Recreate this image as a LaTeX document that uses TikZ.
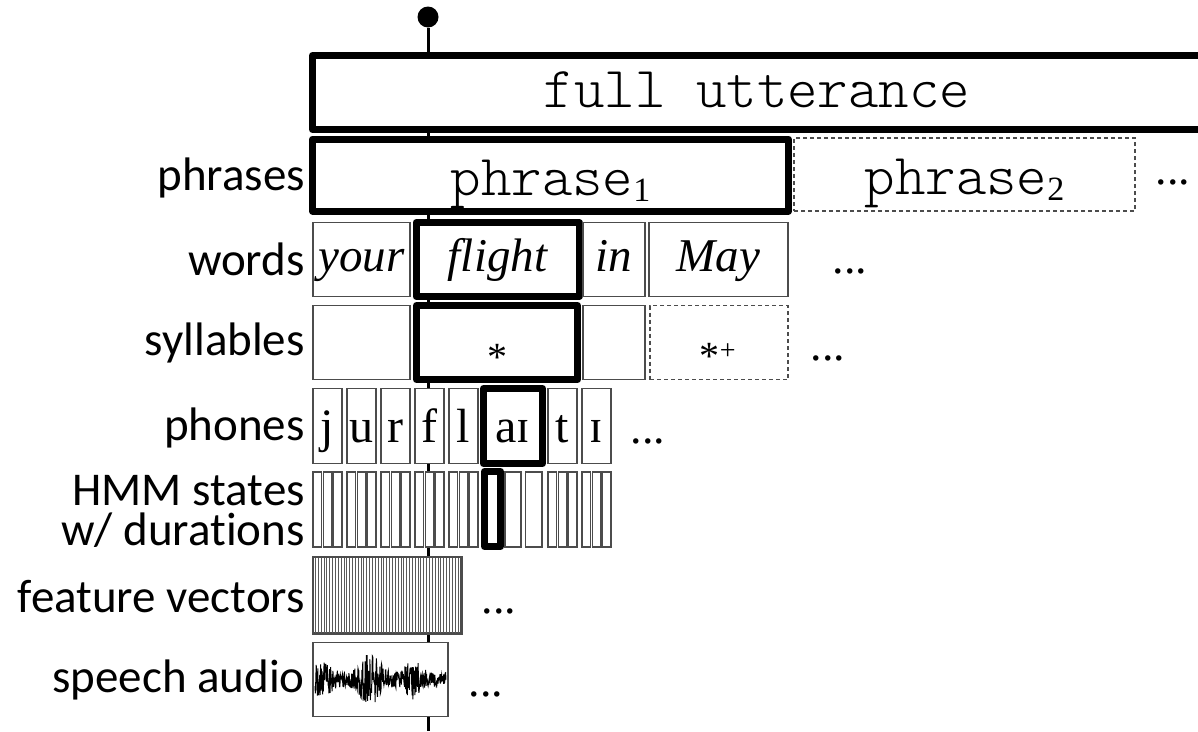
\documentclass[tikz,border=0pt]{standalone}
\usepackage{fontspec}
\setmainfont{Liberation Serif}
\setsansfont{Carlito}[Ligatures=NoCommon]
\setmonofont{Latin Modern Mono Light}
\newcommand{\lowidx}[1]{\raisebox{-6pt}{\rmfamily\fontsize{34}{34}\selectfont #1}}
\begin{document}
\begin{tikzpicture}[x=1pt,y=-1pt,
    declare function={bump(\u)=exp(-(\u)*(\u));
      env(\t)=7+11*bump((\t-322)/12)+19*bump((\t-370)/13)+13*bump((\t-413)/10);}]
    \tikzstyle{unit}=[draw=black!70, line width=1.5pt, fill=white, inner sep=0pt, minimum height=74pt]
    \tikzstyle{focus}=[unit, draw=black, line width=7pt, line join=round]
    \tikzstyle{later}=[unit, dash pattern=on 4pt off 3pt]
    \tikzstyle{level}=[anchor=east, inner sep=0pt, align=right, font=\sffamily\fontsize{47}{40}\selectfont]
    \tikzstyle{more}=[anchor=base, inner sep=0pt, font=\fontsize{46}{46}\selectfont]
    \tikzstyle{mono}=[font=\ttfamily\fontsize{58}{58}\selectfont]
    \useasboundingbox (0,0) rectangle (1198,731);

    % the time axis runs down through every level
    \node[circle, fill, inner sep=0pt, minimum size=21pt] (now) at (428,17) {};
    \coordinate (end) at (428,731);
    \draw[line width=3pt] (now) -- (end);

    % utterance and phrases
    \node[focus, minimum width=889pt] (utt) at (757,92.5) {};
    \node[mono, anchor=base, inner sep=0pt] (uttText) at (757,107) {full utterance};
    \node[focus, mono, minimum width=476pt, minimum height=72pt, text height=40pt, text depth=0pt] (phr1) at (550.5,175) {phrase\lowidx{1}};
    \node[later, mono, minimum width=341pt, minimum height=73pt, text height=40pt, text depth=0pt] (phr2) at (964.5,174.5) {phrase\lowidx{2}};
    \node[more] (phrMore) at (1173,184) {...};

    % words
    \foreach \c/\w/\t/\s in {361.5/97/your/unit, 497.5/163/flight/focus, 614/62/in/unit, 718.5/139/May/unit}
        \node[\s, minimum width=\w pt, text height=26pt, text depth=3pt, font=\itshape\fontsize{47}{47}\selectfont] (w-\t) at (\c,259.5) {\t};
    \node[more] (wordMore) at (850,273) {...};

    % syllables
    \foreach \c/\w/\s [count=\i] in {361.5/97/unit, 497/161/focus, 614/62/unit, 719/138/later}
        \node[\s, minimum width=\w pt] (syl\i) at (\c,342.5) {};
    \node[anchor=base, inner sep=0pt, font=\fontsize{40}{40}\selectfont] (stress) at (497,370) {*};
    \node[anchor=base, inner sep=0pt, font=\fontsize{40}{40}\selectfont] (stressNext) at (718,369) {*\textsuperscript{+}};
    \node[more] (sylMore) at (828,360) {...};

    % phones
    \foreach \c/\p [count=\i] in {327.5/j, 361.5/u, 395.5/r, 429.5/f, 463.5/l, 562.5/t, 596.5/ɪ}
        \node[unit, minimum width=29pt, minimum height=75pt, text height=32pt, text depth=0pt, font=\fontsize{48}{48}\selectfont] (ph\i) at (\c,426) {\p};
    \node[focus, minimum width=59pt, minimum height=75pt, text height=32pt, text depth=0pt, font=\fontsize{48}{48}\selectfont] (phAi) at (513,426) {aɪ};
    \node[more] (phMore) at (648,443) {...};

    % HMM states, three per phone
    \foreach \a in {313,347,381,415,449,548,582}
        \foreach \k in {0,1,2}
            \node[unit, minimum width=8.5pt, minimum height=75pt] (st\a\k) at ({\a+4.3+10.2*\k},509.5) {};
    \node[unit, minimum width=16pt, minimum height=75pt] (stAi1) at (513,509.5) {};
    \node[unit, minimum width=16.5pt, minimum height=75pt] (stAi2) at (533.75,509.5) {};
    \node[focus, minimum width=16pt, minimum height=75pt] (stAi0) at (492.5,509) {};

    % feature vectors
    \node[unit, minimum width=148pt, minimum height=76pt] (feat) at (387,595) {};
    \foreach \x in {315.5,318.35,...,459.5}
        \draw[black!65, line width=1pt] (\x,557.5) -- (\x,632.5);
    \draw[black!70, line width=1.5pt] (feat.south west) rectangle (feat.north east);
    \node[more] (featMore) at (499,613) {...};

    % speech audio
    \node[unit, minimum width=135pt] (audio) at (380.5,679.5) {};
    \pgfmathsetseed{12}
    \draw[line width=1pt] plot[domain=315:446, samples=330] (\x,{679.5+env(\x)*rand});
    \node[more] (audioMore) at (486,696) {...};

    % level names
    \node[level] (lPhr) at (305,178) {phrases};
    \node[level] (lWord) at (305,259.5) {words};
    \node[level] (lSyl) at (305,342.5) {syllables};
    \node[level] (lPh) at (305,428) {phones};
    \node[level] (lSt) at (305,511) {HMM states\\w/ durations};
    \node[level] (lFeat) at (305,597) {feature vectors};
    \node[level] (lAudio) at (305,680) {speech audio};
\end{tikzpicture}
\end{document}
